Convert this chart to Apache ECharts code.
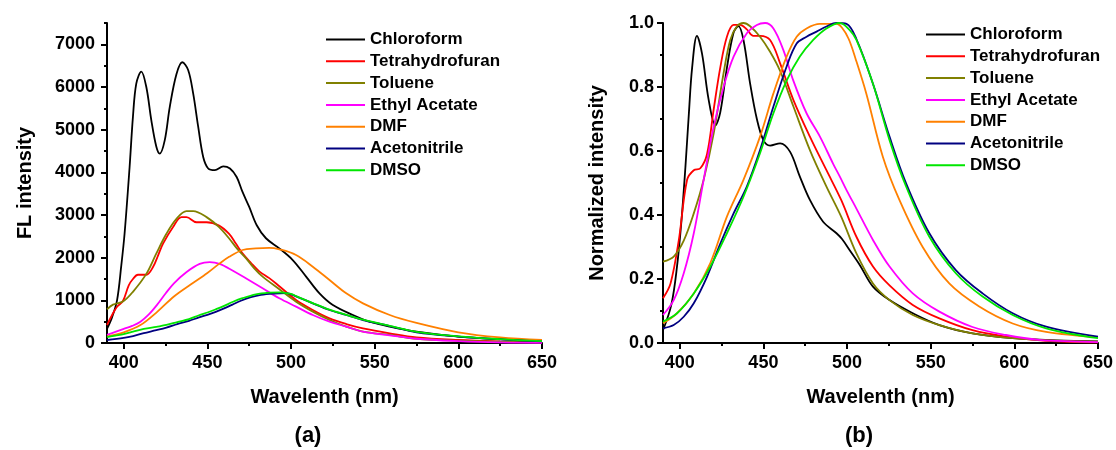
<!DOCTYPE html>
<html>
<head>
<meta charset="utf-8">
<script src="https://cdn.jsdelivr.net/npm/echarts@6/dist/echarts.min.js"></script>
<style>
  html, body { margin: 0; padding: 0; background: #fff; }
  #chart { width: 1116px; height: 450px; }
</style>
</head>
<body>
<div id="chart"></div>
<script>
// Solvent names, in legend order
const solvents = ['Chloroform', 'Tetrahydrofuran', 'Toluene', 'Ethyl Acetate', 'DMF', 'Acetonitrile', 'DMSO'];

// Axis ticks
const xMajor = [400, 450, 500, 550, 600, 650];
const xMinor = [425, 475, 525, 575, 625];
const yMajorFL = [0, 1000, 2000, 3000, 4000, 5000, 6000, 7000];
const yMinorFL = [500, 1500, 2500, 3500, 4500, 5500, 6500, 7500];
const yMajorNorm = [0, 0.2, 0.4, 0.6, 0.8, 1.0];
const yMinorNorm = [0.1, 0.3, 0.5, 0.7, 0.9];

// (a) fluorescence intensity, [wavelength nm, intensity]
const chloroformFL = [[390,330],[393,600],[396,1000],[398.5,1800],[400.5,2560],[403.5,4120],[405.5,5300],[407.5,6080],[410.5,6360],[413.5,6000],[416.5,5220],[419.5,4600],[421.5,4440],[424.5,4750],[427.5,5530],[431.5,6300],[435,6580],[438.5,6400],[441.5,5850],[444.5,5070],[447.5,4360],[450.5,4090],[454.5,4050],[459.5,4140],[463.5,4090],[467.5,3890],[471,3540],[475,3190],[479.5,2760],[485,2455],[493,2218],[501,1945],[509,1557],[517,1164],[525,891],[537,656],[547,500],[559,383],[575,265],[600,150],[625,90],[650,50]];
const thfFL = [[390,420],[393.6,696],[396,850],[399.6,990],[403,1350],[405.5,1500],[408.5,1600],[413.5,1600],[417.5,1780],[420.5,2050],[423.5,2330],[429.5,2720],[434.5,2950],[437.5,2950],[443.5,2830],[449.5,2830],[457,2750],[463,2555],[467,2330],[471,2100],[476,1880],[481,1680],[487,1520],[493,1330],[503,1008],[513,774],[523,578],[533,445],[543,344],[559,227],[575,130],[600,70],[625,38],[650,20]];
const tolueneFL = [[390,790],[393.6,900],[399.5,970],[405.5,1200],[413.5,1620],[419.5,2100],[425.5,2560],[431.5,2910],[437.5,3090],[441.5,3090],[449.5,2950],[457,2715],[463,2450],[468,2200],[473,1990],[478,1750],[483,1555],[493,1260],[503,969],[513,735],[523,539],[533,383],[543,266],[559,188],[575,100],[600,55],[625,30],[650,15]];
const ethylAcetateFL = [[390,190],[395,260],[400,330],[405,400],[410,500],[415,670],[420,900],[425,1160],[430,1400],[437.4,1660],[445.4,1855],[451.4,1895],[457.3,1855],[465,1700],[473,1516],[483,1282],[493,1047],[503,852],[513,656],[523,500],[533,383],[543,266],[559,180],[575,100],[600,45],[625,15],[650,5]];
const dmfFL = [[390,150],[400,250],[410,420],[420,730],[430,1090],[440,1370],[450,1640],[457,1855],[463,2020],[471,2180],[479,2219],[487,2230],[493,2196],[503,2063],[513,1789],[523,1477],[533,1164],[543,930],[559,656],[575,470],[600,250],[625,130],[650,70]];
const acetonitrileFL = [[390,70],[400,120],[405.6,164],[412,230],[419.5,300],[425.5,360],[432,440],[439,520],[445,600],[450,660],[455,730],[460,810],[465,900],[470,990],[476,1075],[482,1130],[490,1160],[497,1170],[503,1094],[513,930],[523,774],[533,656],[543,539],[559,398],[575,250],[600,150],[625,85],[650,40]];
const dmsoFL = [[390,140],[395,175],[400,210],[405.6,265],[412,330],[419.5,380],[425.5,422],[432,490],[439,560],[445,650],[450,715],[455,790],[460,870],[465,960],[471,1050],[479,1140],[487,1180],[493,1188],[500,1150],[503,1100],[513,935],[523,780],[533,660],[543,545],[559,400],[575,262],[600,155],[625,90],[650,45]];

// (b) normalized intensity, [wavelength nm, relative intensity]
const chloroformNorm = [[390,0.04],[395,0.12],[398.4,0.24],[401,0.38],[403.4,0.55],[405.5,0.72],[407.4,0.86],[410.3,0.96],[413.3,0.905],[417.3,0.76],[421.3,0.68],[424.2,0.72],[428.2,0.86],[432.2,0.97],[435.1,0.99],[438.1,0.947],[442.1,0.81],[446.1,0.70],[450,0.634],[454,0.617],[460,0.624],[465.9,0.598],[471.8,0.52],[477.8,0.447],[485.7,0.379],[493.7,0.343],[497,0.325],[501.6,0.29],[507.6,0.244],[515.5,0.176],[525.4,0.134],[539.3,0.093],[555.2,0.056],[575,0.03],[599,0.015],[625,0.008],[650,0.005]];
const thfNorm = [[390,0.14],[394.5,0.186],[399.4,0.32],[404.4,0.51],[408.4,0.54],[412.3,0.546],[416.3,0.59],[420.3,0.73],[424.2,0.86],[428.2,0.957],[432.2,0.994],[436.1,0.994],[440.1,0.98],[444,0.96],[448,0.96],[454,0.947],[460,0.874],[467.9,0.76],[477.8,0.645],[487.7,0.54],[496.5,0.447],[505.6,0.332],[515.5,0.239],[525.4,0.18],[539.3,0.119],[555.2,0.077],[575,0.04],[595,0.02],[619,0.007],[650,0.002]];
const tolueneNorm = [[390,0.254],[396.4,0.27],[402.4,0.32],[408.4,0.405],[414.3,0.51],[420.3,0.655],[426.2,0.843],[430.2,0.947],[434.2,0.99],[438.1,1.0],[442.1,0.99],[448,0.957],[454,0.91],[460,0.85],[467.9,0.74],[477.8,0.603],[487.7,0.489],[496.5,0.395],[505.6,0.28],[515.5,0.186],[525.4,0.134],[539.3,0.0875],[555.2,0.056],[575,0.03],[599,0.015],[625,0.007],[650,0.004]];
const ethylAcetateNorm = [[390,0.0875],[396.4,0.134],[402.4,0.218],[408.4,0.343],[414.3,0.51],[420.3,0.676],[426.2,0.80],[432.2,0.895],[440.1,0.968],[446.1,0.994],[451,1.0],[456,0.983],[461.9,0.916],[467.9,0.82],[475.8,0.718],[483.8,0.645],[491.7,0.56],[495.7,0.52],[499.7,0.478],[505.6,0.42],[515.5,0.322],[525.4,0.239],[539.3,0.155],[555.2,0.098],[575,0.05],[595,0.025],[614.6,0.01],[650,0.003]];
const dmfNorm = [[390,0.062],[398.4,0.093],[408.4,0.155],[418.3,0.25],[428.2,0.395],[438.1,0.51],[448,0.645],[456,0.78],[463.9,0.895],[469.9,0.957],[475.8,0.983],[483.8,0.997],[493.7,0.997],[497,0.985],[501,0.95],[505,0.89],[511.5,0.78],[521.4,0.582],[531.3,0.447],[545.2,0.30],[561.1,0.186],[579,0.114],[599,0.061],[619,0.035],[650,0.018]];
const acetonitrileNorm = [[390,0.046],[396.4,0.056],[402.4,0.082],[408.4,0.124],[416.3,0.207],[424.2,0.31],[432.2,0.405],[440.1,0.489],[448,0.603],[456,0.739],[463.9,0.864],[469.9,0.936],[475.8,0.957],[481.8,0.973],[487.7,0.989],[493.7,1.0],[499.7,0.997],[505.6,0.95],[515.5,0.81],[525.4,0.645],[535.3,0.499],[549.2,0.343],[565,0.228],[581,0.155],[599,0.093],[619,0.051],[650,0.02]];
const dmsoNorm = [[390,0.067],[398.4,0.093],[408.4,0.155],[418.3,0.239],[428.2,0.343],[438.1,0.457],[448,0.593],[456,0.718],[463.9,0.82],[471.8,0.895],[479.8,0.947],[487.7,0.983],[495.7,1.0],[501.6,0.978],[505.6,0.947],[515.5,0.81],[525.4,0.634],[535.3,0.489],[549.2,0.332],[565,0.218],[581,0.145],[599,0.0875],[619,0.046],[650,0.015]];

const colors = ['#000000', '#ff0000', '#808000', '#ff00ff', '#ff8000', '#000080', '#00e600'];
const flData = [chloroformFL, thfFL, tolueneFL, ethylAcetateFL, dmfFL, acetonitrileFL, dmsoFL];
const normData = [chloroformNorm, thfNorm, tolueneNorm, ethylAcetateNorm, dmfNorm, acetonitrileNorm, dmsoNorm];

const FONT = '"Liberation Sans", Arial, sans-serif';
const black = '#000';

function majorX(gridIndex) {
  return {
    type: 'value', gridIndex, min: 390, max: 650, position: 'bottom',
    axisLine: { show: true, onZero: false, lineStyle: { color: black, width: 2 } },
    axisTick: { show: true, customValues: xMajor, length: 6, lineStyle: { color: black, width: 2 } },
    axisLabel: { customValues: xMajor, color: black, fontSize: 18, fontWeight: 'bold', fontFamily: FONT, margin: 11 },
    splitLine: { show: false },
    name: 'Wavelenth (nm)', nameLocation: 'middle', nameGap: 44,
    nameTextStyle: { color: black, fontSize: 20, fontWeight: 'bold', fontFamily: FONT }
  };
}
function minorX(gridIndex) {
  return {
    type: 'value', gridIndex, min: 390, max: 650, position: 'bottom',
    axisLine: { show: false },
    axisTick: { show: true, customValues: xMinor, length: 3, lineStyle: { color: black, width: 2 } },
    axisLabel: { show: false }, splitLine: { show: false }
  };
}
function majorY(gridIndex, max, ticks, name, gap, margin, fmt) {
  return {
    type: 'value', gridIndex, min: 0, max, position: 'left',
    axisLine: { show: true, onZero: false, lineStyle: { color: black, width: 2 } },
    axisTick: { show: true, customValues: ticks, length: 6, lineStyle: { color: black, width: 2 } },
    axisLabel: { customValues: ticks, color: black, fontSize: 18, fontWeight: 'bold', fontFamily: FONT, margin, formatter: fmt },
    splitLine: { show: false },
    name, nameLocation: 'middle', nameGap: gap,
    nameTextStyle: { color: black, fontSize: 20, fontWeight: 'bold', fontFamily: FONT }
  };
}
function minorY(gridIndex, max, ticks) {
  return {
    type: 'value', gridIndex, min: 0, max, position: 'left',
    axisLine: { show: false },
    axisTick: { show: true, customValues: ticks, length: 3, lineStyle: { color: black, width: 2 } },
    axisLabel: { show: false }, splitLine: { show: false }
  };
}

function lineSeries(data, i, axisIndex) {
  return {
    type: 'line', name: solvents[i], data,
    xAxisIndex: axisIndex, yAxisIndex: axisIndex,
    symbol: 'none', showSymbol: false, smooth: 0.35,
    lineStyle: { color: colors[i], width: 1.8 },
    itemStyle: { color: colors[i] },
    emphasis: { disabled: true }, silent: true, animation: false
  };
}

// Legend entries show only the line sample, no marker
function legend(left, top) {
  return {
    orient: 'vertical', left, top, padding: 0,
    itemWidth: 39, itemHeight: 14, itemGap: 4.8,
    data: solvents,
    itemStyle: { opacity: 0 },
    lineStyle: { width: 2 },
    textStyle: { color: black, fontSize: 17, fontWeight: 'bold', fontFamily: FONT },
    selectedMode: false
  };
}

const chart = echarts.init(document.getElementById('chart'), null, { renderer: 'canvas' });
chart.setOption({
  backgroundColor: '#fff',
  animation: false,
  grid: [
    { left: 107, top: 23, width: 435, height: 320 },
    { left: 663, top: 23, width: 435, height: 320 }
  ],
  xAxis: [majorX(0), minorX(0), majorX(1), minorX(1)],
  yAxis: [
    majorY(0, 7500, yMajorFL, 'FL intensity', 72, 12, v => String(v)),
    minorY(0, 7500, yMinorFL),
    majorY(1, 1, yMajorNorm, 'Normalized intensity', 56, 9, v => v.toFixed(1)),
    minorY(1, 1, yMinorNorm)
  ],
  legend: [legend(325, 31), legend(925, 26)],
  series: [
    ...flData.map((d, i) => lineSeries(d, i, 0)),
    ...normData.map((d, i) => lineSeries(d, i, 2))
  ],
  graphic: [
    { type: 'text', x: 308, y: 436, style: { text: '(a)', fill: black, fontSize: 22, fontWeight: 'bold', fontFamily: FONT, align: 'center', verticalAlign: 'middle' } },
    { type: 'text', x: 859, y: 436, style: { text: '(b)', fill: black, fontSize: 22, fontWeight: 'bold', fontFamily: FONT, align: 'center', verticalAlign: 'middle' } }
  ]
});
</script>
</body>
</html>
